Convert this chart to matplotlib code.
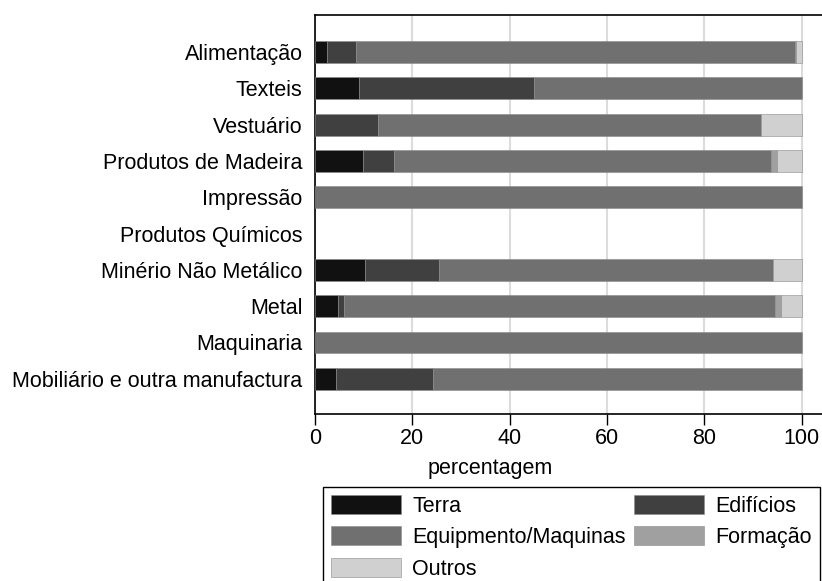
import matplotlib.pyplot as plt
import numpy as np

plt.rcParams['font.family'] = ['Liberation Sans', 'DejaVu Sans']

sectors = ["Alimentação", "Texteis", "Vestuário", "Produtos de Madeira", "Impressão",
           "Produtos Químicos", "Minério Não Metálico", "Metal", "Maquinaria",
           "Mobiliário e outra manufactura"]

# percentagem por tipo de investimento
terra = [2.4, 9.1, 0.0, 9.9, 0.0, 0.0, 10.2, 4.8, 0.0, 4.4]
edificios = [6.0, 35.8, 13.0, 6.3, 0.0, 0.0, 15.2, 1.1, 0.0, 19.9]
equipamento = [90.2, 55.1, 78.6, 77.6, 100.0, 0.0, 68.8, 88.6, 100.0, 75.7]
formacao = [0.2, 0.0, 0.0, 1.1, 0.0, 0.0, 0.0, 1.3, 0.0, 0.0]
outros = [1.2, 0.0, 8.4, 5.1, 0.0, 0.0, 5.8, 4.2, 0.0, 0.0]

series = [("Terra", terra, "#111111"),
          ("Edifícios", edificios, "#404040"),
          ("Equipmento/Maquinas", equipamento, "#707070"),
          ("Formação", formacao, "#a0a0a0"),
          ("Outros", outros, "#d0d0d0")]

FS = 15.5

fig = plt.figure(figsize=(8.22, 5.81), dpi=100)
W, H = 822, 581
ax = fig.add_axes([315 / W, 1 - 414 / H, (826 - 315) / W, (414 - 15) / H])

y = np.arange(len(sectors))
left = np.zeros(len(sectors))
handles = {}
for name, vals, col in series:
    vals = np.array(vals)
    lw = [0.4 if v > 0 else 0 for v in vals]
    b = ax.barh(y, vals, left=left, height=0.6, color=col, edgecolor="#8a8a8a", linewidth=lw, zorder=3)
    handles[name] = b
    left += vals

ax.set_xlim(0, 105)
ax.set_ylim(9.97, -1.02)
ax.set_yticks(y)
ax.set_yticklabels(sectors, fontsize=FS)
ax.tick_params(axis="y", length=0, pad=9)
ax.set_xticks([0, 20, 40, 60, 80, 100])
ax.tick_params(axis="x", length=8, width=1, labelsize=FS, pad=2)
ax.grid(axis="x", color="#dcdcdc", linewidth=1.5, zorder=0)
ax.spines["right"].set_visible(False)
for s in ["left", "bottom", "top"]:
    ax.spines[s].set_linewidth(1.2)
ax.set_xlabel("percentagem", fontsize=FS, labelpad=0)
ax.xaxis.set_label_coords((490 - 315) / (826 - 315), -0.11)

order = ["Terra", "Equipmento/Maquinas", "Outros", "Edifícios", "Formação"]
leg = fig.legend([handles[n] for n in order], order, loc="upper left",
                 bbox_to_anchor=(322.7 / W, 1 - 487 / H), ncol=2, fontsize=FS,
                 frameon=True, fancybox=False, edgecolor="black", framealpha=1,
                 handlelength=3.25, handleheight=0.98, handletextpad=0.55,
                 columnspacing=0.37, labelspacing=0.44, borderpad=0.37,
                 borderaxespad=0)
leg.get_frame().set_linewidth(1.0)

fig.savefig("out.png", dpi=100)
